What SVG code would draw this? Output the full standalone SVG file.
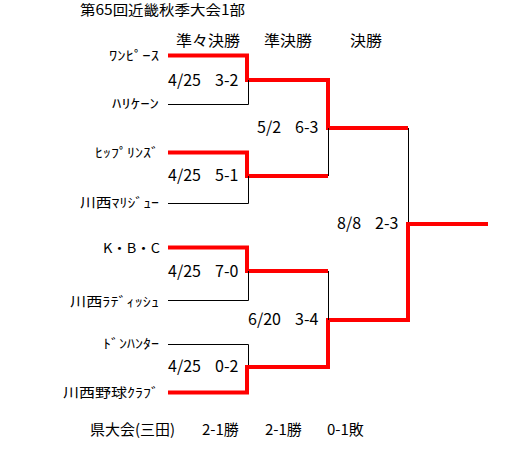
<svg xmlns="http://www.w3.org/2000/svg" width="520" height="451" viewBox="0 0 520 451">
<style>
  text { font-family: "Noto Sans CJK JP", "Noto Sans", sans-serif; fill: #000; white-space: pre; }
  .title { font-size: 14px; }
  .head { font-size: 15px; }
  .team { font-size: 13px; }
  .score { font-size: 16px; }
  .foot { font-size: 15px; }
  .win { fill: none; stroke: #ff0000; stroke-width: 4; stroke-linejoin: miter; stroke-linecap: butt; }
  .lose { fill: none; stroke: #000; stroke-width: 1; }
</style>
<rect width="520" height="451" fill="#fff"/>
<g id="title"><text class="title" x="80" y="15" textLength="165" lengthAdjust="spacingAndGlyphs">第65回近畿秋季大会1部</text></g>
<g id="headers">
  <text class="head" x="176" y="46" textLength="64" lengthAdjust="spacingAndGlyphs">準々決勝</text>
  <text class="head" x="264" y="46" textLength="48" lengthAdjust="spacingAndGlyphs">準決勝</text>
  <text class="head" x="350" y="46" textLength="32" lengthAdjust="spacingAndGlyphs">決勝</text>
</g>
<g id="connectors">
  <polyline class="win" points="168,55.5 247,55.5 247,80 328,80 328,128 408,128"/>
  <polyline class="lose" points="168,104.5 248.5,104.5 248.5,80"/>
  <polyline class="win" points="168,152.5 247,152.5 247,176 328,176"/>
  <polyline class="lose" points="168,203.5 248.5,203.5 248.5,176"/>
  <polyline class="lose" points="328.5,128 328.5,176"/>
  <polyline class="lose" points="408.5,128 408.5,224"/>
  <polyline class="win" points="168,247.5 247,247.5 247,271 328,271"/>
  <polyline class="lose" points="168,300.5 248.5,300.5 248.5,271"/>
  <polyline class="lose" points="168,344.5 248.5,344.5 248.5,367"/>
  <polyline class="win" points="168,392.5 247,392.5 247,367 328,367 328,320 408,320 408,224 488,224"/>
  <polyline class="lose" points="328.5,271 328.5,320"/>
</g>
<g id="team1"><text class="team" x="109" y="60" textLength="50" lengthAdjust="spacingAndGlyphs">ﾜﾝﾋﾟｰｽ</text></g>
<g id="team2"><text class="team" x="112" y="108" textLength="47" lengthAdjust="spacingAndGlyphs">ﾊﾘｹｰﾝ</text></g>
<g id="team3"><text class="team" x="95" y="157" textLength="64" lengthAdjust="spacingAndGlyphs">ﾋｯﾌﾟﾘﾝｽﾞ</text></g>
<g id="team4"><text class="team" x="80" y="207" textLength="79" lengthAdjust="spacingAndGlyphs">川西ﾏﾘｼﾞｭｰ</text></g>
<g id="team5"><text class="team" x="103" y="253" textLength="57" lengthAdjust="spacingAndGlyphs">K・B・C</text></g>
<g id="team6"><text class="team" x="70" y="306" textLength="89" lengthAdjust="spacingAndGlyphs">川西ﾗﾃﾞｨｯｼｭ</text></g>
<g id="team7"><text class="team" x="103" y="348" textLength="56" lengthAdjust="spacingAndGlyphs">ﾄﾞﾝﾊﾝﾀｰ</text></g>
<g id="team8"><text class="team" x="63" y="397" textLength="96" lengthAdjust="spacingAndGlyphs">川西野球ｸﾗﾌﾞ</text></g>
<g id="scores">
  <text class="score" y="86"><tspan x="168">4/25</tspan><tspan x="215">3-2</tspan></text>
  <text class="score" y="181"><tspan x="168">4/25</tspan><tspan x="215">5-1</tspan></text>
  <text class="score" y="277"><tspan x="168">4/25</tspan><tspan x="215">7-0</tspan></text>
  <text class="score" y="372"><tspan x="168">4/25</tspan><tspan x="215">0-2</tspan></text>
  <text class="score" y="133"><tspan x="257">5/2</tspan><tspan x="295">6-3</tspan></text>
  <text class="score" y="325"><tspan x="248">6/20</tspan><tspan x="295">3-4</tspan></text>
  <text class="score" y="229"><tspan x="337">8/8</tspan><tspan x="375">2-3</tspan></text>
</g>
<g id="footer"><text class="foot" y="435"><tspan x="90">県大会(三田)</tspan><tspan x="202">2-1勝</tspan><tspan x="265">2-1勝</tspan><tspan x="327">0-1敗</tspan></text></g>
</svg>
